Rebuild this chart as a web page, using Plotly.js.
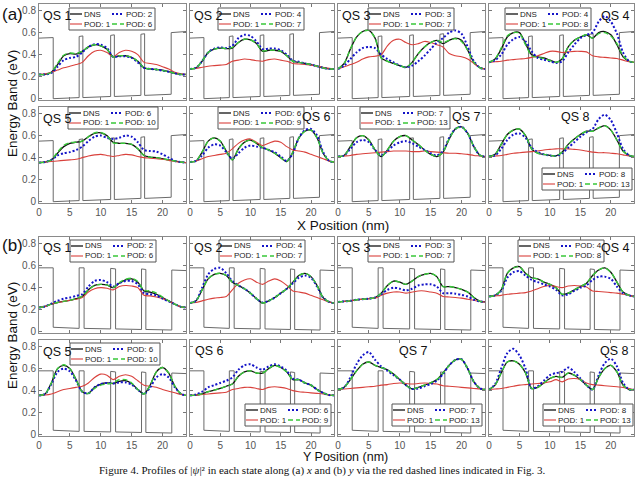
<!DOCTYPE html>
<html><head><meta charset="utf-8">
<script src="https://cdn.plot.ly/plotly-3.0.1.min.js"></script>
<style>html,body{margin:0;padding:0;background:#fff}#chart{width:640px;height:478px}</style>
</head><body><div id="chart"></div>
<script>
// ---------- data ----------
const xPos = [0,1,2,3,4,5,6,7,8,9,10,11,12,13,14,15,16,17,18,19,20,21,22,23,23.8];
const xTicks = [0,5,10,15,20];
const yTicks = [0,0.2,0.4,0.6,0.8];
const yTickText = ['0','0.2','0.4','0.6','0.8'];
const stateNames = ['QS 1','QS 2','QS 3','QS 4','QS 5','QS 6','QS 7','QS 8'];
const podN = [2,4,3,4,6,6,7,8];
const podM = [6,7,7,8,10,9,13,13];

// band-edge profiles (nm, eV)
const wellXa = [0,2.3,2.3,6.5,6.5,7.1,7.1,11.6,11.6,12.2,12.2,16.5,16.5,17.1,17.1,21.4,21.4,23.8];
const wellVa = [0.55,0.555,0.0,0.01,0.565,0.57,0.01,0.02,0.575,0.58,0.02,0.03,0.585,0.59,0.03,0.04,0.6,0.61];
const wellXb = [0,2.3,2.3,6.5,6.5,7.3,7.3,11.6,11.6,12.4,12.4,16.6,16.6,17.3,17.3,21.5,21.5,23.8];
const wellVb = [0.58,0.58,0.04,0.03,0.58,0.58,0.03,0.025,0.575,0.57,0.025,0.02,0.57,0.565,0.02,0.015,0.56,0.555];

// panel (a): along x
const a1_dns = [0.22,0.22,0.24,0.31,0.39,0.41,0.405,0.43,0.47,0.49,0.48,0.45,0.38,0.39,0.39,0.375,0.34,0.28,0.27,0.265,0.26,0.245,0.23,0.22,0.22];
const a1_p1  = [0.22,0.225,0.24,0.26,0.28,0.295,0.31,0.33,0.39,0.43,0.44,0.42,0.38,0.42,0.44,0.43,0.4,0.33,0.32,0.31,0.29,0.27,0.24,0.225,0.22];
const a1_pn  = [0.22,0.22,0.235,0.29,0.35,0.37,0.38,0.42,0.47,0.495,0.49,0.46,0.38,0.385,0.385,0.37,0.33,0.28,0.27,0.265,0.255,0.245,0.23,0.22,0.22];
const a1_pm  = [0.22,0.22,0.24,0.32,0.395,0.415,0.41,0.43,0.47,0.49,0.48,0.45,0.38,0.39,0.39,0.375,0.34,0.28,0.27,0.265,0.255,0.245,0.23,0.22,0.22];

const a2_dns = [0.27,0.28,0.34,0.42,0.45,0.46,0.455,0.46,0.51,0.54,0.535,0.5,0.43,0.44,0.44,0.43,0.39,0.34,0.33,0.32,0.31,0.295,0.28,0.27,0.27];
const a2_p1  = [0.27,0.275,0.285,0.295,0.3,0.305,0.31,0.34,0.35,0.36,0.355,0.345,0.34,0.355,0.36,0.35,0.34,0.32,0.315,0.31,0.305,0.295,0.285,0.275,0.27];
const a2_pn  = [0.27,0.28,0.34,0.42,0.455,0.465,0.46,0.48,0.55,0.58,0.57,0.52,0.45,0.455,0.455,0.44,0.4,0.345,0.335,0.32,0.31,0.295,0.28,0.27,0.27];
const a2_pm  = [0.27,0.28,0.34,0.42,0.45,0.46,0.455,0.465,0.51,0.54,0.535,0.5,0.435,0.44,0.44,0.43,0.39,0.34,0.33,0.32,0.31,0.295,0.28,0.27,0.27];

const a3_dns = [0.27,0.32,0.45,0.56,0.61,0.62,0.55,0.37,0.34,0.32,0.3,0.285,0.33,0.41,0.47,0.51,0.53,0.5,0.53,0.55,0.53,0.44,0.33,0.28,0.27];
const a3_p1  = [0.27,0.29,0.31,0.33,0.36,0.38,0.385,0.4,0.48,0.53,0.54,0.51,0.49,0.5,0.52,0.51,0.49,0.47,0.41,0.39,0.38,0.36,0.32,0.28,0.27];
const a3_pn  = [0.27,0.3,0.36,0.42,0.46,0.47,0.46,0.4,0.36,0.33,0.3,0.285,0.3,0.34,0.39,0.45,0.51,0.55,0.6,0.62,0.59,0.47,0.34,0.28,0.27];
const a3_pm  = [0.27,0.32,0.45,0.56,0.61,0.62,0.55,0.37,0.34,0.32,0.3,0.285,0.33,0.41,0.47,0.51,0.53,0.51,0.53,0.545,0.52,0.44,0.33,0.28,0.27];

const a4_dns = [0.33,0.36,0.45,0.56,0.6,0.6,0.5,0.4,0.38,0.37,0.35,0.33,0.36,0.47,0.53,0.56,0.58,0.55,0.6,0.61,0.58,0.49,0.38,0.34,0.33];
const a4_p1  = [0.33,0.335,0.34,0.35,0.355,0.36,0.365,0.375,0.39,0.41,0.43,0.43,0.42,0.425,0.43,0.43,0.425,0.39,0.38,0.375,0.37,0.365,0.35,0.335,0.33];
const a4_pn  = [0.33,0.35,0.4,0.49,0.54,0.56,0.52,0.43,0.37,0.355,0.34,0.325,0.34,0.42,0.49,0.55,0.58,0.6,0.7,0.75,0.7,0.59,0.42,0.34,0.33];
const a4_pm  = [0.33,0.36,0.46,0.57,0.6,0.595,0.49,0.39,0.375,0.365,0.345,0.33,0.36,0.47,0.53,0.56,0.58,0.55,0.59,0.6,0.57,0.5,0.39,0.34,0.33];

const a5_dns = [0.355,0.36,0.38,0.44,0.5,0.53,0.54,0.55,0.59,0.62,0.625,0.6,0.54,0.53,0.53,0.52,0.48,0.42,0.405,0.4,0.39,0.38,0.37,0.36,0.355];
const a5_p1  = [0.355,0.36,0.365,0.37,0.375,0.38,0.385,0.4,0.415,0.425,0.43,0.42,0.41,0.42,0.43,0.425,0.41,0.4,0.395,0.39,0.385,0.375,0.365,0.36,0.355];
const a5_pn  = [0.355,0.36,0.38,0.42,0.44,0.45,0.47,0.5,0.55,0.59,0.6,0.58,0.57,0.58,0.6,0.59,0.54,0.47,0.46,0.455,0.43,0.4,0.37,0.36,0.355];
const a5_pm  = [0.355,0.36,0.38,0.45,0.51,0.535,0.54,0.55,0.59,0.625,0.63,0.6,0.535,0.53,0.53,0.52,0.48,0.42,0.405,0.4,0.39,0.38,0.37,0.36,0.355];

const a6_dns = [0.36,0.37,0.45,0.55,0.58,0.55,0.46,0.38,0.48,0.54,0.56,0.53,0.49,0.47,0.44,0.4,0.365,0.45,0.58,0.64,0.65,0.58,0.44,0.37,0.36];
const a6_p1  = [0.36,0.37,0.39,0.41,0.42,0.43,0.44,0.48,0.53,0.56,0.57,0.54,0.51,0.53,0.55,0.54,0.5,0.47,0.46,0.45,0.43,0.41,0.39,0.37,0.36];
const a6_pn  = [0.36,0.37,0.42,0.49,0.52,0.51,0.45,0.39,0.44,0.49,0.51,0.5,0.49,0.47,0.45,0.41,0.37,0.44,0.58,0.65,0.66,0.6,0.45,0.37,0.36];
const a6_pm  = [0.36,0.37,0.45,0.55,0.58,0.55,0.46,0.38,0.48,0.54,0.56,0.53,0.49,0.47,0.44,0.4,0.365,0.45,0.58,0.64,0.65,0.58,0.44,0.37,0.36];

const a7_dns = [0.41,0.42,0.5,0.58,0.6,0.56,0.47,0.41,0.47,0.55,0.59,0.6,0.56,0.52,0.47,0.43,0.41,0.45,0.57,0.66,0.68,0.62,0.5,0.42,0.41];
const a7_p1  = [0.41,0.415,0.42,0.43,0.435,0.44,0.445,0.45,0.455,0.46,0.46,0.46,0.455,0.455,0.46,0.455,0.45,0.445,0.44,0.44,0.435,0.43,0.42,0.415,0.41];
const a7_pn  = [0.41,0.42,0.48,0.54,0.56,0.54,0.47,0.42,0.46,0.51,0.54,0.55,0.53,0.5,0.47,0.44,0.42,0.46,0.58,0.66,0.68,0.62,0.5,0.42,0.41];
const a7_pm  = [0.41,0.42,0.5,0.58,0.6,0.56,0.47,0.41,0.47,0.55,0.59,0.6,0.56,0.52,0.47,0.43,0.41,0.45,0.57,0.66,0.68,0.62,0.5,0.42,0.41];

const a8_dns = [0.41,0.43,0.52,0.61,0.65,0.66,0.6,0.48,0.44,0.43,0.42,0.415,0.45,0.52,0.57,0.61,0.64,0.64,0.67,0.69,0.65,0.56,0.46,0.42,0.41];
const a8_p1  = [0.41,0.415,0.42,0.43,0.44,0.445,0.45,0.455,0.46,0.47,0.475,0.48,0.48,0.48,0.475,0.47,0.46,0.45,0.445,0.445,0.44,0.435,0.425,0.415,0.41];
const a8_pn  = [0.41,0.42,0.48,0.56,0.61,0.62,0.58,0.49,0.45,0.43,0.42,0.415,0.44,0.49,0.54,0.59,0.63,0.66,0.75,0.79,0.74,0.62,0.48,0.42,0.41];
const a8_pm  = [0.41,0.43,0.52,0.61,0.65,0.66,0.6,0.48,0.44,0.43,0.42,0.415,0.45,0.52,0.57,0.61,0.64,0.64,0.67,0.69,0.65,0.56,0.46,0.42,0.41];

// panel (b): along y
const b1_dns = [0.22,0.23,0.25,0.265,0.275,0.285,0.3,0.32,0.38,0.42,0.43,0.425,0.4,0.44,0.47,0.48,0.45,0.37,0.36,0.34,0.31,0.28,0.25,0.225,0.22];
const b1_p1  = [0.22,0.23,0.25,0.265,0.275,0.285,0.295,0.31,0.36,0.39,0.4,0.395,0.38,0.41,0.42,0.415,0.4,0.33,0.325,0.315,0.3,0.28,0.25,0.225,0.22];
const b1_pn  = [0.22,0.23,0.255,0.28,0.3,0.31,0.325,0.34,0.41,0.46,0.47,0.45,0.41,0.44,0.46,0.46,0.43,0.35,0.34,0.33,0.3,0.275,0.25,0.225,0.22];
const b1_pm  = [0.22,0.23,0.25,0.265,0.275,0.285,0.3,0.32,0.38,0.42,0.43,0.425,0.4,0.445,0.475,0.485,0.455,0.375,0.37,0.35,0.315,0.28,0.25,0.225,0.22];

const b2_dns = [0.26,0.28,0.38,0.48,0.52,0.53,0.51,0.45,0.42,0.39,0.35,0.3,0.26,0.28,0.31,0.35,0.39,0.45,0.51,0.53,0.5,0.42,0.31,0.27,0.26];
const b2_p1  = [0.26,0.265,0.28,0.295,0.305,0.31,0.32,0.38,0.44,0.47,0.48,0.45,0.43,0.46,0.48,0.46,0.42,0.37,0.36,0.35,0.33,0.31,0.29,0.27,0.26];
const b2_pn  = [0.26,0.28,0.4,0.52,0.57,0.58,0.53,0.46,0.42,0.39,0.35,0.3,0.265,0.28,0.31,0.35,0.39,0.44,0.49,0.51,0.49,0.41,0.31,0.27,0.26];
const b2_pm  = [0.26,0.28,0.38,0.48,0.52,0.53,0.51,0.45,0.42,0.39,0.35,0.3,0.26,0.28,0.31,0.35,0.39,0.45,0.51,0.53,0.5,0.42,0.31,0.27,0.26];

const b3_dns = [0.27,0.275,0.28,0.29,0.295,0.3,0.31,0.35,0.42,0.46,0.45,0.43,0.46,0.5,0.52,0.53,0.5,0.41,0.41,0.4,0.385,0.36,0.31,0.275,0.27];
const b3_p1  = [0.27,0.275,0.28,0.29,0.295,0.3,0.305,0.33,0.35,0.36,0.36,0.35,0.36,0.37,0.37,0.36,0.35,0.32,0.315,0.31,0.305,0.295,0.285,0.275,0.27];
const b3_pn  = [0.27,0.275,0.28,0.29,0.295,0.3,0.31,0.34,0.38,0.4,0.39,0.375,0.39,0.42,0.43,0.43,0.41,0.35,0.35,0.345,0.335,0.32,0.29,0.275,0.27];
const b3_pm  = [0.27,0.275,0.28,0.29,0.295,0.3,0.31,0.35,0.42,0.46,0.45,0.43,0.46,0.5,0.52,0.53,0.5,0.41,0.41,0.4,0.385,0.36,0.31,0.275,0.27];

const b4_dns = [0.32,0.33,0.38,0.53,0.58,0.59,0.53,0.49,0.48,0.45,0.43,0.4,0.34,0.35,0.38,0.41,0.44,0.51,0.56,0.58,0.54,0.45,0.36,0.33,0.32];
const b4_p1  = [0.32,0.325,0.33,0.34,0.345,0.35,0.355,0.37,0.39,0.41,0.42,0.41,0.4,0.415,0.42,0.415,0.405,0.37,0.365,0.36,0.355,0.35,0.34,0.33,0.32];
const b4_pn  = [0.32,0.33,0.37,0.49,0.54,0.55,0.51,0.47,0.45,0.43,0.41,0.38,0.33,0.34,0.37,0.4,0.42,0.47,0.5,0.5,0.48,0.41,0.35,0.33,0.32];
const b4_pm  = [0.32,0.33,0.38,0.53,0.58,0.59,0.53,0.49,0.48,0.45,0.43,0.4,0.34,0.35,0.38,0.41,0.44,0.51,0.56,0.58,0.54,0.45,0.36,0.33,0.32];

const b5_dns = [0.357,0.37,0.47,0.6,0.63,0.6,0.5,0.39,0.375,0.43,0.46,0.47,0.465,0.485,0.49,0.465,0.41,0.37,0.45,0.57,0.61,0.56,0.44,0.37,0.357];
const b5_p1  = [0.357,0.36,0.37,0.39,0.41,0.42,0.43,0.44,0.47,0.52,0.55,0.54,0.5,0.53,0.545,0.53,0.49,0.45,0.44,0.43,0.41,0.395,0.38,0.365,0.357];
const b5_pn  = [0.357,0.37,0.46,0.57,0.6,0.575,0.49,0.39,0.375,0.43,0.46,0.47,0.465,0.475,0.475,0.455,0.41,0.37,0.43,0.52,0.55,0.52,0.43,0.37,0.357];
const b5_pm  = [0.357,0.37,0.47,0.6,0.635,0.6,0.5,0.39,0.375,0.42,0.45,0.46,0.47,0.5,0.5,0.47,0.41,0.37,0.45,0.57,0.61,0.56,0.44,0.37,0.357];

const b6_dns = [0.357,0.36,0.37,0.39,0.405,0.42,0.44,0.46,0.53,0.57,0.58,0.56,0.56,0.6,0.63,0.61,0.57,0.5,0.5,0.47,0.45,0.41,0.38,0.36,0.357];
const b6_p1  = [0.357,0.36,0.365,0.37,0.375,0.38,0.385,0.41,0.42,0.43,0.43,0.42,0.41,0.43,0.435,0.43,0.42,0.4,0.39,0.385,0.38,0.375,0.37,0.36,0.357];
const b6_pn  = [0.357,0.365,0.39,0.43,0.45,0.47,0.49,0.52,0.59,0.63,0.64,0.61,0.59,0.62,0.64,0.62,0.58,0.51,0.5,0.47,0.45,0.41,0.38,0.36,0.357];
const b6_pm  = [0.357,0.36,0.37,0.39,0.405,0.42,0.44,0.46,0.53,0.57,0.58,0.56,0.56,0.6,0.63,0.61,0.57,0.5,0.5,0.47,0.45,0.41,0.38,0.36,0.357];

const b7_dns = [0.41,0.43,0.5,0.58,0.64,0.66,0.63,0.61,0.59,0.55,0.5,0.45,0.415,0.43,0.45,0.47,0.5,0.56,0.63,0.68,0.685,0.6,0.48,0.42,0.41];
const b7_p1  = [0.41,0.415,0.42,0.425,0.43,0.435,0.44,0.45,0.455,0.465,0.47,0.465,0.46,0.465,0.47,0.465,0.46,0.445,0.44,0.435,0.43,0.425,0.42,0.415,0.41];
const b7_pn  = [0.41,0.43,0.52,0.64,0.72,0.75,0.68,0.62,0.58,0.54,0.5,0.45,0.415,0.42,0.44,0.46,0.49,0.55,0.63,0.68,0.685,0.6,0.48,0.42,0.41];
const b7_pm  = [0.41,0.43,0.5,0.58,0.64,0.66,0.63,0.61,0.59,0.55,0.5,0.45,0.415,0.43,0.45,0.47,0.5,0.56,0.63,0.68,0.685,0.6,0.48,0.42,0.41];

const b8_dns = [0.41,0.45,0.56,0.66,0.67,0.64,0.56,0.42,0.43,0.47,0.51,0.53,0.52,0.56,0.54,0.5,0.45,0.41,0.52,0.6,0.63,0.57,0.45,0.41,0.41];
const b8_p1  = [0.41,0.415,0.42,0.43,0.44,0.45,0.455,0.46,0.465,0.47,0.48,0.5,0.48,0.505,0.51,0.5,0.47,0.455,0.45,0.445,0.44,0.435,0.43,0.42,0.41];
const b8_pn  = [0.41,0.46,0.6,0.74,0.78,0.72,0.6,0.42,0.44,0.49,0.54,0.56,0.57,0.61,0.57,0.51,0.45,0.41,0.54,0.65,0.69,0.62,0.47,0.41,0.41];
const b8_pm  = [0.41,0.45,0.56,0.66,0.67,0.64,0.56,0.42,0.43,0.47,0.51,0.53,0.52,0.56,0.54,0.5,0.45,0.41,0.52,0.6,0.63,0.57,0.45,0.41,0.41];

// ---------- assembly ----------
const DNS  = [a1_dns,a2_dns,a3_dns,a4_dns,a5_dns,a6_dns,a7_dns,a8_dns,b1_dns,b2_dns,b3_dns,b4_dns,b5_dns,b6_dns,b7_dns,b8_dns];
const POD1 = [a1_p1,a2_p1,a3_p1,a4_p1,a5_p1,a6_p1,a7_p1,a8_p1,b1_p1,b2_p1,b3_p1,b4_p1,b5_p1,b6_p1,b7_p1,b8_p1];
const PODN = [a1_pn,a2_pn,a3_pn,a4_pn,a5_pn,a6_pn,a7_pn,a8_pn,b1_pn,b2_pn,b3_pn,b4_pn,b5_pn,b6_pn,b7_pn,b8_pn];
const PODM = [a1_pm,a2_pm,a3_pm,a4_pm,a5_pm,a6_pm,a7_pm,a8_pm,b1_pm,b2_pm,b3_pm,b4_pm,b5_pm,b6_pm,b7_pm,b8_pm];

const W = 640, H = 478;
const px = v => v / W, py = v => 1 - v / H;
const colsPx = [[39,186],[190,334],[338,485],[489,634]];
const rowsPx = [[4,100],[107,203],[237,333],[340,436]];

const C_DNS = '#111111', C_P1 = '#d9413c', C_PN = '#1414c8', C_PM = '#38c838', C_WELL = '#6a6a6a';
const DOT = '2px,2px', DASH = '5px,3px';
const FONT = 'Arial, "Liberation Sans", sans-serif';

// legend box (left, top) in px and title placement
const legPos = [[69,8],[218,8],[368,8],[505,8],[68,107],[218,107],[360,107],[542,168],
                [70,240],[219,240],[368,240],[518,240],[70,343],[245,404],[392,404],[543,404]];
const titlePos = [[41,16,'left'],[192,16,'left'],[340,16,'left'],[632,16,'right'],
                  [41,119,'left'],[333,117,'right'],[483,117,'right'],[592,117,'right'],
                  [41,248,'left'],[192,248,'left'],[340,248,'left'],[632,248,'right'],
                  [41,352,'left'],[193,351,'left'],[430,351,'right'],[631,351,'right']];

const traces = [];
const layout = {
  width: W, height: H, margin: {l:0, r:0, t:0, b:0},
  paper_bgcolor: '#fff', plot_bgcolor: '#fff', showlegend: false,
  font: {family: FONT, color: '#333'},
  shapes: [], annotations: []
};

for (let i = 0; i < 16; i++) {
  const panel = Math.floor(i / 8), k = i % 8;
  const row = panel * 2 + Math.floor(k / 4), col = k % 4;
  const n = i + 1, sfx = n === 1 ? '' : String(n);
  const xa = 'x' + sfx, ya = 'y' + sfx;
  const wx = panel === 0 ? wellXa : wellXb, wv = panel === 0 ? wellVa : wellVb;
  const base = {xaxis: xa, yaxis: ya, mode: 'lines', hoverinfo: 'skip'};
  traces.push(Object.assign({}, base, {x: wx, y: wv, line: {color: C_WELL, width: 1}}));
  traces.push(Object.assign({}, base, {x: xPos, y: DNS[i], line: {color: C_DNS, width: 1.3, shape: 'spline', smoothing: 0.8}}));
  traces.push(Object.assign({}, base, {x: xPos, y: POD1[i], line: {color: C_P1, width: 1.1, shape: 'spline', smoothing: 0.8}}));
  traces.push(Object.assign({}, base, {x: xPos, y: PODN[i], line: {color: C_PN, width: 2, dash: DOT, shape: 'spline', smoothing: 0.8}}));
  traces.push(Object.assign({}, base, {x: xPos, y: PODM[i], line: {color: C_PM, width: 1.4, dash: DASH, shape: 'spline', smoothing: 0.8}}));

  const cp = colsPx[col], rp = rowsPx[row];
  layout['xaxis' + sfx] = {
    domain: [px(cp[0]), px(cp[1])], anchor: ya, range: [0, 23.8],
    tickvals: xTicks, showticklabels: (row % 2 === 1),
    ticks: 'inside', ticklen: 3, tickcolor: '#777', tickwidth: 1,
    showline: true, linecolor: '#8a8a8a', linewidth: 1, mirror: 'ticks',
    showgrid: false, zeroline: false, fixedrange: true,
    tickfont: {size: 10, color: '#555', family: FONT}
  };
  layout['yaxis' + sfx] = {
    domain: [py(rp[1]), py(rp[0])], anchor: xa, range: [-0.012, 0.86],
    tickvals: yTicks, ticktext: yTickText, showticklabels: (col === 0),
    ticks: 'inside', ticklen: 3, tickcolor: '#777', tickwidth: 1,
    showline: true, linecolor: '#8a8a8a', linewidth: 1, mirror: 'ticks',
    showgrid: false, zeroline: false, fixedrange: true,
    tickfont: {size: 10, color: '#555', family: FONT}
  };

  // state title
  const tp = titlePos[i];
  layout.annotations.push({xref:'paper', yref:'paper', x: px(tp[0]), y: py(tp[1]),
    xanchor: tp[2], yanchor: 'middle', showarrow: false, text: stateNames[k],
    font: {size: 12.5, color: '#111', family: FONT}});

  // legend box
  const L = legPos[i][0], T = legPos[i][1];
  const wide = podM[k] >= 10;
  const BW = wide ? 90 : 86, BH = 22;
  layout.shapes.push({type:'rect', xref:'paper', yref:'paper', layer:'above',
    x0: px(L), x1: px(L + BW), y0: py(T + BH), y1: py(T),
    line: {color: '#555555', width: 1}, fillcolor: '#ffffff'});
  const r1 = T + 6, r2 = T + 16;
  const c2 = L + 43;
  const items = [
    [L + 1, r1, C_DNS, 'solid', 1.3, 'DNS'],
    [c2, r1, C_PN, DOT, 2, 'POD: ' + podN[k]],
    [L + 1, r2, C_P1, 'solid', 1.1, 'POD: 1'],
    [c2, r2, C_PM, DASH, 1.4, 'POD: ' + podM[k]]
  ];
  items.forEach(it => {
    layout.shapes.push({type:'line', xref:'paper', yref:'paper', layer:'above',
      x0: px(it[0]), x1: px(it[0] + 12), y0: py(it[1]), y1: py(it[1]),
      line: {color: it[2], width: it[4], dash: it[3]}});
    layout.annotations.push({xref:'paper', yref:'paper', x: px(it[0] + 13), y: py(it[1]),
      xanchor: 'left', yanchor: 'middle', showarrow: false, text: it[5],
      borderpad: 0, font: {size: 8, color: '#222', family: FONT}});
  });
}

// panel labels and axis titles
const addText = (x, y, text, size, extra) => layout.annotations.push(Object.assign({
  xref:'paper', yref:'paper', x: px(x), y: py(y), showarrow:false, text: text,
  xanchor:'center', yanchor:'middle', borderpad: 0, font:{size:size, color:'#111', family: FONT}}, extra || {}));
addText(12, 14, '(a)', 17);
addText(12, 246, '(b)', 17);
addText(343, 225, 'X Position (nm)', 13.5);
addText(345, 456.5, 'Y Position (nm)', 12.5);
addText(12, 104, 'Energy Band (eV)', 13.5, {textangle: -90});
addText(12, 336, 'Energy Band (eV)', 13.5, {textangle: -90});
layout.annotations.push({xref:'paper', yref:'paper', x: px(322), y: 0, xanchor:'center', yanchor:'bottom',
  borderpad: 0, showarrow:false,
  text:'Figure 4. Profiles of |<i>ψ</i>|² in each state along (a) <i>x</i> and (b) <i>y</i> via the red dashed lines indicated in Fig. 3.',
  font:{size:11, color:'#111', family:'"Liberation Serif", "Times New Roman", serif'}});

Plotly.newPlot('chart', traces, layout, {staticPlot: true, displayModeBar: false});
</script>
</body></html>
